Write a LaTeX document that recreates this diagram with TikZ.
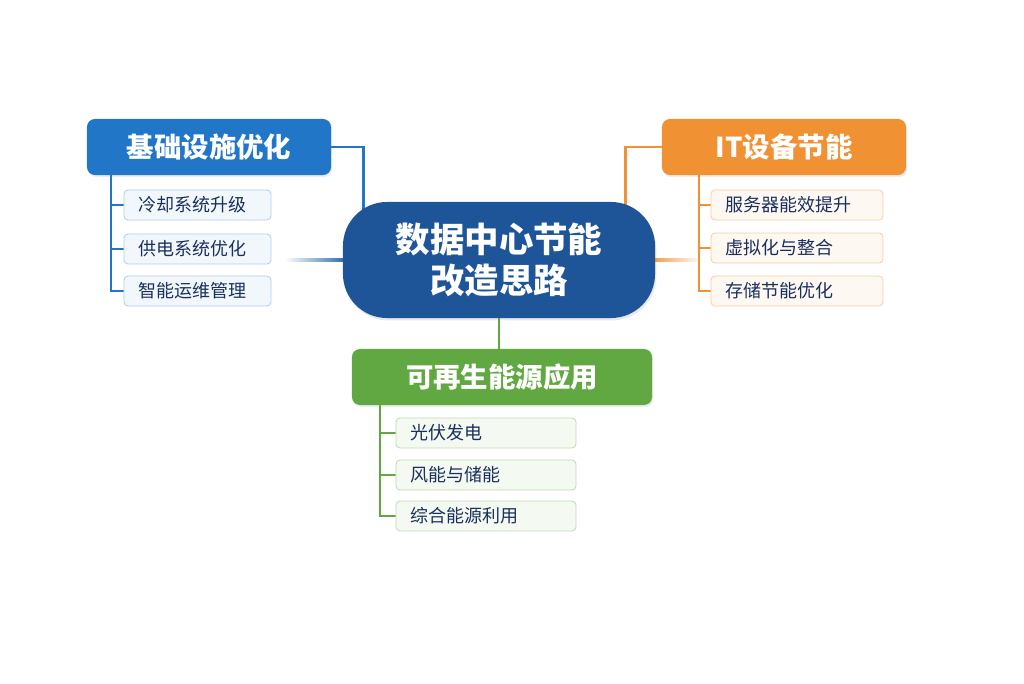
\documentclass[tikz,border=0pt]{standalone}
\usepackage{fontspec}
\setmainfont{Noto Sans CJK SC}
\usetikzlibrary{backgrounds,shadows}
\definecolor{corefill}{RGB}{30,84,152}
\definecolor{infrablue}{RGB}{33,118,200}
\definecolor{itorange}{RGB}{240,146,52}
\definecolor{renewgreen}{RGB}{98,168,66}
\definecolor{leafink}{RGB}{26,48,92}

\begin{document}
\begin{tikzpicture}[
  x=0.025cm, y=-0.025cm,
  core/.style={rounded corners=1.1cm, fill=corefill, text=white, align=center,
    font=\fontsize{24.5}{29}\selectfont\bfseries,
    minimum width=7.8cm, minimum height=2.9cm,
    drop shadow={opacity=0.18, shadow xshift=0.03cm, shadow yshift=-0.06cm}},
  head/.style={rounded corners=0.2cm, text=white,
    font=\fontsize{19.5}{23}\selectfont\bfseries, minimum height=1.4cm,
    drop shadow={opacity=0.15, shadow xshift=0.03cm, shadow yshift=-0.05cm}},
  leaf/.style={rounded corners=0.1cm, line width=0.6pt, text=leafink, align=left,
    font=\fontsize{12.8}{15}\selectfont, minimum height=0.75cm, inner xsep=0.375cm},
  bleaf/.style={leaf, draw=infrablue!35, fill=infrablue!6, text width=2.925cm},
  oleaf/.style={leaf, draw=itorange!45, fill=itorange!6, text width=3.55cm},
  gleaf/.style={leaf, draw=renewgreen!40, fill=renewgreen!7, text width=3.75cm},
  link/.style={line width=1.8pt}
]
\useasboundingbox (0,0) rectangle (1024,683);
% centre topic
\node[core] (core) at (499,260) {数据中心节能\\改造思路};
% three branches
\node[head, fill=infrablue, minimum width=6.1cm] (infra) at (209,147) {基础设施优化};
\node[head, fill=itorange, minimum width=6.1cm] (itdev) at (784,147) {IT设备节能};
\node[head, fill=renewgreen, minimum width=7.5cm] (renew) at (502,377) {可再生能源应用};
% leaves
\foreach \i/\y/\txt in {1/205/冷却系统升级, 2/249/供电系统优化, 3/291/智能运维管理}{
  \node[bleaf] (infra-\i) at (197.5,\y) {\txt};
}
\foreach \i/\y/\txt in {1/205/服务器能效提升, 2/248/虚拟化与整合, 3/291/存储节能优化}{
  \node[oleaf] (itdev-\i) at (797,\y) {\txt};
}
\foreach \i/\y/\txt in {1/433/光伏发电, 2/475/风能与储能, 3/516/综合能源利用}{
  \node[gleaf] (renew-\i) at (486,\y) {\txt};
}
% brackets
\coordinate (infra-bus) at (111,0);
\coordinate (itdev-bus) at (699,0);
\coordinate (renew-bus) at (380,0);
\coordinate (fade-l) at (285,260);
\coordinate (fade-r) at (702,260);
\begin{scope}[on background layer]
  \draw[link, infrablue] (infra.east) -| ([xshift=0.525cm]core.west);
  \draw[link, itorange] (itdev.west) -| ([xshift=-0.75cm]core.east);
  \draw[link, renewgreen] (core.south) -- (core.south |- renew.north);
  \shade[left color=white, right color=infrablue!80!black]
    ([yshift=0.04cm]fade-l) rectangle ([xshift=0.2cm,yshift=-0.04cm]core.west);
  \shade[left color=itorange, right color=white]
    ([xshift=-0.2cm,yshift=0.04cm]core.east) rectangle ([yshift=-0.04cm]fade-r);
  \draw[link, infrablue] (infra-bus |- infra.south) |- (infra-3.west);
  \draw[link, itorange] (itdev-bus |- itdev.south) |- (itdev-3.west);
  \draw[link, renewgreen] (renew-bus |- renew.south) |- (renew-3.west);
  \foreach \i in {1,2}{
    \draw[link, infrablue] (infra-bus |- infra-\i.west) -- (infra-\i.west);
    \draw[link, itorange] (itdev-bus |- itdev-\i.west) -- (itdev-\i.west);
    \draw[link, renewgreen] (renew-bus |- renew-\i.west) -- (renew-\i.west);
  }
\end{scope}
\end{tikzpicture}
\end{document}
